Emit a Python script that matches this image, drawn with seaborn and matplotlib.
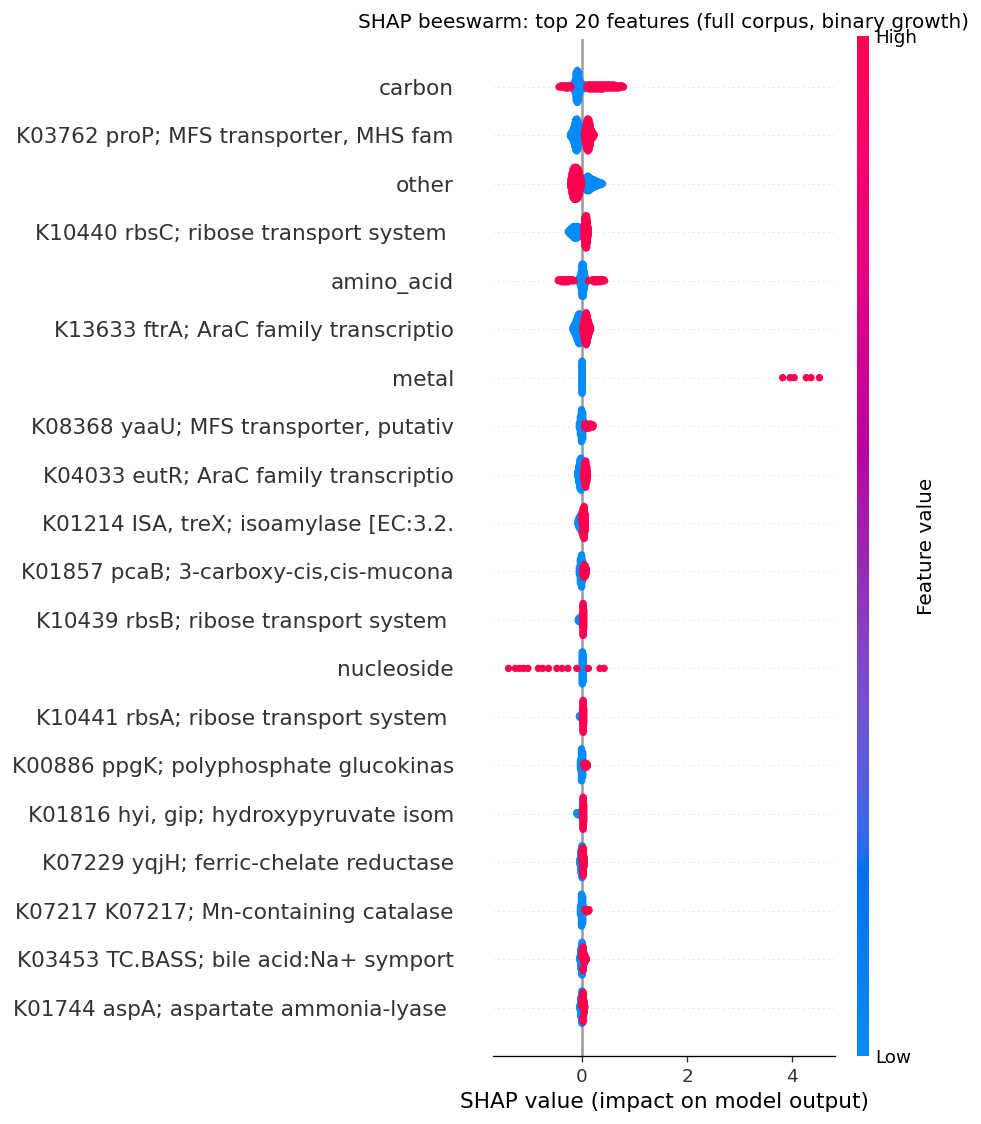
import numpy as np
import pandas as pd
import matplotlib
matplotlib.use("Agg")
import matplotlib.pyplot as plt
from matplotlib.colors import LinearSegmentedColormap, Normalize
from matplotlib.cm import ScalarMappable
import seaborn as sns

# ---------------------------------------------------------------- data
TITLE = "SHAP beeswarm: top 20 features (full corpus, binary growth)"
XLABEL = "SHAP value (impact on model output)"
CBAR_LABEL = "Feature value"
CBAR_TICKLABELS = ["Low", "High"]
XTICKS = [0, 2, 4]

FEATURES = [
    "carbon",
    "K03762 proP; MFS transporter, MHS fam",
    "other",
    "K10440 rbsC; ribose transport system ",
    "amino_acid",
    "K13633 ftrA; AraC family transcriptio",
    "metal",
    "K08368 yaaU; MFS transporter, putativ",
    "K04033 eutR; AraC family transcriptio",
    "K01214 ISA, treX; isoamylase [EC:3.2.",
    "K01857 pcaB; 3-carboxy-cis,cis-mucona",
    "K10439 rbsB; ribose transport system ",
    "nucleoside",
    "K10441 rbsA; ribose transport system ",
    "K00886 ppgK; polyphosphate glucokinas",
    "K01816 hyi, gip; hydroxypyruvate isom",
    "K07229 yqjH; ferric-chelate reductase",
    "K07217 K07217; Mn-containing catalase",
    "K03453 TC.BASS; bile acid:Na+ symport",
    "K01744 aspA; aspartate ammonia-lyase ",
]

# (SHAP value, number of samples) for low (blue) and high (red) feature values
carbon_low = [(-0.19, 4), (-0.17, 6), (-0.15, 8), (-0.13, 14), (-0.11, 30), (-0.09, 34),
              (-0.07, 30), (-0.05, 16), (-0.03, 8), (-0.01, 6), (0.01, 6), (0.03, 5),
              (0.05, 4), (0.07, 3)]
carbon_high = [(-0.44, 1), (-0.41, 2), (-0.38, 2), (-0.35, 2), (-0.32, 3), (-0.29, 3),
               (-0.26, 3), (-0.23, 2), (-0.21, 1),
               (0.10, 4), (0.13, 5), (0.16, 5), (0.19, 5), (0.22, 5), (0.25, 5), (0.28, 5),
               (0.31, 5), (0.34, 5), (0.37, 5), (0.40, 5), (0.43, 4), (0.46, 4), (0.49, 4),
               (0.52, 4), (0.55, 4), (0.58, 4), (0.61, 4), (0.64, 3), (0.67, 3), (0.70, 3),
               (0.73, 2), (0.76, 2), (0.79, 1)]
proP_low = [(-0.22, 3), (-0.20, 6), (-0.18, 10), (-0.16, 16), (-0.14, 24), (-0.12, 32),
            (-0.10, 34), (-0.08, 30), (-0.06, 24), (-0.04, 16), (-0.02, 8)]
proP_high = [(0.05, 10), (0.07, 18), (0.09, 30), (0.11, 34), (0.13, 32), (0.15, 24),
             (0.17, 12), (0.19, 8), (0.21, 5), (0.23, 2)]
other_low = [(0.05, 8), (0.07, 12), (0.09, 15), (0.11, 16), (0.13, 15), (0.15, 13),
             (0.17, 11), (0.19, 10), (0.21, 9), (0.23, 8), (0.25, 7), (0.27, 6), (0.29, 5),
             (0.31, 4), (0.33, 3), (0.35, 3), (0.37, 2), (0.39, 1)]
other_high = [(-0.21, 10), (-0.19, 22), (-0.17, 30), (-0.15, 34), (-0.13, 34), (-0.11, 34),
              (-0.09, 32), (-0.07, 30), (-0.05, 24), (-0.03, 14), (-0.01, 6)]
rbsC_low = [(-0.26, 2), (-0.24, 4), (-0.22, 6), (-0.20, 8), (-0.18, 10), (-0.16, 12),
            (-0.14, 13), (-0.12, 13), (-0.10, 13), (-0.08, 12), (-0.06, 10), (-0.04, 8),
            (-0.02, 5)]
rbsC_high = [(0.04, 16), (0.055, 30), (0.07, 34), (0.085, 34), (0.10, 24), (0.115, 10)]
amino_low = [(-0.06, 4), (-0.04, 8), (-0.02, 16), (0.00, 34), (0.02, 34), (0.04, 20),
             (0.06, 8), (0.08, 4)]
amino_high = [(-0.45, 2), (-0.42, 2), (-0.39, 3), (-0.36, 3), (-0.33, 3), (-0.30, 3),
              (-0.27, 3), (-0.24, 2), (-0.21, 2), (-0.18, 2), (-0.15, 1), (0.12, 1),
              (0.20, 2), (0.23, 3), (0.26, 3), (0.29, 3), (0.32, 3), (0.35, 3), (0.38, 2),
              (0.41, 2), (0.43, 1)]
ftrA_low = [(-0.17, 4), (-0.15, 8), (-0.13, 12), (-0.11, 18), (-0.09, 24), (-0.07, 30),
            (-0.05, 32), (-0.03, 26), (-0.01, 14)]
ftrA_high = [(0.02, 8), (0.04, 20), (0.06, 30), (0.08, 34), (0.10, 28), (0.12, 18),
             (0.14, 10), (0.16, 4)]
metal_low = [(0.0, 36)]
metal_high = [(3.82, 1), (3.96, 1), (4.04, 1), (4.27, 1), (4.36, 1), (4.52, 1)]
yaaU_low = [(-0.05, 6), (-0.03, 20), (-0.01, 34), (0.01, 28), (0.03, 10)]
yaaU_high = [(0.05, 4), (0.08, 5), (0.11, 5), (0.14, 5), (0.17, 4), (0.20, 3), (0.21, 2)]
eutR_low = [(-0.08, 6), (-0.06, 18), (-0.04, 30), (-0.02, 34), (0.00, 20)]
eutR_high = [(0.03, 10), (0.05, 24), (0.07, 28), (0.09, 16), (0.10, 6)]
treX_low = [(-0.08, 4), (-0.06, 10), (-0.04, 14), (-0.02, 15), (0.00, 10)]
treX_high = [(0.00, 12), (0.02, 30), (0.04, 34), (0.06, 18)]
pcaB_low = [(-0.05, 8), (-0.03, 26), (-0.01, 34), (0.01, 22), (0.03, 8)]
pcaB_high = [(0.02, 10), (0.04, 14), (0.06, 12), (0.08, 6)]
rbsB_low = [(-0.07, 3), (-0.05, 5), (-0.03, 6), (-0.01, 4)]
rbsB_high = [(0.01, 14), (0.02, 34), (0.03, 20)]
nucleoside_low = [(0.005, 34), (0.025, 28)]
nucleoside_high = [(-1.40, 1), (-1.27, 1), (-1.19, 1), (-1.11, 1), (-1.03, 1), (-0.83, 1),
                   (-0.75, 1), (-0.64, 1), (-0.48, 1), (-0.38, 1), (-0.27, 1), (-0.10, 1),
                   (0.12, 1), (0.34, 1), (0.42, 1)]
rbsA_low = [(-0.05, 2), (-0.03, 3), (-0.01, 2)]
rbsA_high = [(0.01, 14), (0.02, 34), (0.03, 18)]
ppgK_low = [(-0.03, 10), (-0.01, 34), (0.01, 26), (0.02, 8)]
ppgK_high = [(0.04, 4), (0.06, 5), (0.08, 5), (0.10, 3)]
hyi_low = [(-0.10, 2), (-0.08, 3), (-0.06, 3), (-0.04, 3), (-0.02, 2)]
hyi_high = [(0.01, 14), (0.02, 34), (0.03, 18)]
yqjH_low = [(-0.04, 6), (-0.02, 24), (0.00, 20)]
yqjH_high = [(0.00, 14), (0.02, 30), (0.04, 10)]
mncat_low = [(-0.03, 10), (-0.01, 34), (0.01, 28), (0.03, 8)]
mncat_high = [(0.05, 2), (0.08, 3), (0.11, 3), (0.13, 2)]
bass_low = [(-0.04, 6), (-0.02, 28), (0.00, 34), (0.02, 12)]
bass_high = [(0.00, 10), (0.02, 20), (0.04, 14), (0.06, 8), (0.08, 3)]
aspA_low = [(-0.04, 6), (-0.02, 26), (0.00, 30), (0.02, 12)]
aspA_high = [(0.00, 12), (0.02, 26), (0.04, 16), (0.05, 4)]

ROW_DATA = [
    (carbon_low, carbon_high), (proP_low, proP_high), (other_low, other_high),
    (rbsC_low, rbsC_high), (amino_low, amino_high), (ftrA_low, ftrA_high),
    (metal_low, metal_high), (yaaU_low, yaaU_high), (eutR_low, eutR_high),
    (treX_low, treX_high), (pcaB_low, pcaB_high), (rbsB_low, rbsB_high),
    (nucleoside_low, nucleoside_high), (rbsA_low, rbsA_high), (ppgK_low, ppgK_high),
    (hyi_low, hyi_high), (yqjH_low, yqjH_high), (mncat_low, mncat_high),
    (bass_low, bass_high), (aspA_low, aspA_high),
]

# ---------------------------------------------------------------- colormap (SHAP red_blue, LCH interpolation)
def lch_to_rgb(l, c, h):
    a, b = c * np.cos(h), c * np.sin(h)
    fy = (l + 16) / 116.0
    fx = fy + a / 500.0
    fz = fy - b / 200.0

    def finv(t):
        return t ** 3 if t > 0.2068966 else (t - 16 / 116.0) / 7.787

    X, Y, Z = 0.95047 * finv(fx), finv(fy), 1.08883 * finv(fz)
    lin = np.array([3.2406 * X - 1.5372 * Y - 0.4986 * Z,
                    -0.9689 * X + 1.8758 * Y + 0.0415 * Z,
                    0.0557 * X - 0.2040 * Y + 1.0570 * Z])
    lin = np.clip(lin, 0, None)
    rgb = np.where(lin > 0.0031308, 1.055 * np.power(lin, 1 / 2.4) - 0.055, 12.92 * lin)
    return np.clip(rgb, 0, 1)


nsteps = 100
l_vals = list(np.linspace(54.0, 40.0, nsteps // 2)) + list(np.linspace(40.0, 54.0, nsteps // 2))
c_vals = np.linspace(70.0, 90.0, nsteps)
h_vals = np.linspace(4.6588, 0.35470565 + 2 * np.pi, nsteps)
cm_colors = [lch_to_rgb(l, c, h) for l, c, h in zip(l_vals, c_vals, h_vals)]
red_blue = LinearSegmentedColormap.from_list("red_blue", list(zip(np.linspace(0, 1, nsteps), cm_colors)))

# ---------------------------------------------------------------- beeswarm layout
def beeswarm_offsets(shaps, order_key, row_height=0.4, nbins=100):
    quant = np.round(nbins * (shaps - shaps.min()) / (shaps.max() - shaps.min() + 1e-8))
    inds = np.lexsort((order_key, quant))
    ys = np.zeros(len(shaps))
    layer, last_bin = 0, -1
    for ind in inds:
        if quant[ind] != last_bin:
            layer = 0
        ys[ind] = np.ceil(layer / 2) * ((layer % 2) * 2 - 1)
        layer += 1
        last_bin = quant[ind]
    ys *= 0.9 * (row_height / np.max(ys + 1))
    return ys


frames = []
n_feat = len(FEATURES)
for i, (name, (low, high)) in enumerate(zip(FEATURES, ROW_DATA)):
    shap_v, fval, key = [], [], []
    for groups, fv in ((low, 0.0), (high, 1.0)):
        for v, n in groups:
            for k in range(n):
                shap_v.append(v)
                fval.append(fv)
                key.append(k)
    shap_v = np.array(shap_v)
    ys = beeswarm_offsets(shap_v, np.array(key))
    pos = n_feat - 1 - i
    frames.append(pd.DataFrame({"feature": name, "shap": shap_v,
                                "y": pos + ys, "value": fval}))
df = pd.concat(frames, ignore_index=True)

# ---------------------------------------------------------------- figure
W, H = 981, 1124
fig = plt.figure(figsize=(W / 100, H / 100), dpi=100)
ax = fig.add_axes([493 / W, 1 - 1056 / H, (835 - 493) / W, (1056 - 38.5) / H])

for pos in range(n_feat):
    ax.axhline(pos, color="#cccccc", lw=0.6, dashes=(1, 5), zorder=-1)
ax.axvline(0, color="#999999", lw=1.8, zorder=-1)

sns.scatterplot(data=df, x="shap", y="y", hue="value", palette=red_blue, hue_norm=(0, 1),
                s=28, linewidth=0, alpha=1, legend=False, ax=ax, zorder=3)

ax.set_ylim(-1, n_feat)
ax.set_yticks(range(n_feat))
ax.set_yticklabels(FEATURES[::-1], fontsize=15.6)
ax.set_xticks(XTICKS)
ax.set_xlabel(XLABEL, fontsize=15.6, labelpad=4.8)
ax.set_ylabel("")
ax.set_title(TITLE, fontsize=14.4, pad=7.2)
for s in ("top", "right", "left"):
    ax.spines[s].set_visible(False)
ax.spines["bottom"].set_linewidth(0.96)
ax.tick_params(axis="y", length=0, pad=28.2, colors="#333333", labelcolor="#333333")
ax.tick_params(axis="x", labelsize=13.2, length=4.2, width=0.96, pad=4.2,
               color="#333333", labelcolor="#333333")

cax = fig.add_axes([857.3 / W, 1 - 1056 / H, 11.7 / W, (1056 - 36) / H])
sm = ScalarMappable(norm=Normalize(0, 1), cmap=red_blue)
cb = fig.colorbar(sm, cax=cax, ticks=[0, 1])
cb.set_ticklabels(CBAR_TICKLABELS)
cb.outline.set_visible(False)
cb.ax.tick_params(labelsize=13.2, length=0, pad=4.2)
cb.set_label(CBAR_LABEL, size=14.4, labelpad=0)

fig.savefig("out.png", dpi=100)
